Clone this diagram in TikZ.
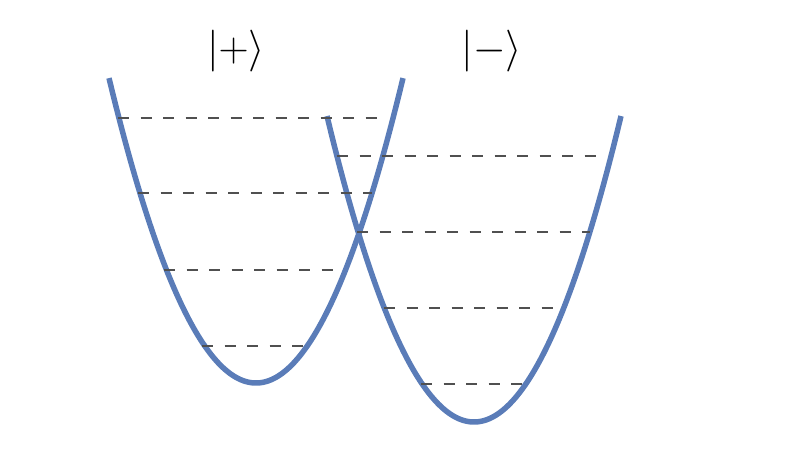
\documentclass[tikz,border=0pt]{standalone}
\definecolor{wellblue}{RGB}{90,124,184}
\definecolor{levelgray}{RGB}{80,80,80}
\tikzset{
  well/.style={wellblue, line width=5.5pt, line cap=butt},
  level/.style={levelgray, line width=1.1pt, dash pattern=on 11pt off 11.5pt},
  ketlabel/.style={font=\Huge, scale=1.68, inner sep=0pt}
}
\begin{document}
\begin{tikzpicture}[x=1pt,y=-1pt]
\useasboundingbox (0,0) rectangle (808,455);
% wells
\draw[well] plot[domain=109:403, samples=120, smooth] (\x, {383-1.411*((\x-256)/10)^2});
\draw[well] plot[domain=327:621, samples=120, smooth] (\x, {422-1.416*((\x-474)/10)^2});
% levels of left well
\draw[level] (118,118) -- (384,118);
\draw[level] (138,193) -- (372,193);
\draw[level] (164,270) -- (340,270);
\draw[level] (202,346) -- (308,346);
% levels of right well
\draw[level] (337,156) -- (607,156);
\draw[level] (357,232) -- (590,232);
\draw[level] (384,308) -- (558,308);
\draw[level] (421,384) -- (527,384);
% labels
\node[ketlabel] (plus) at (236,51) {$|{+}\rangle$};
\node[ketlabel] (minus) at (492,51) {$|{-}\rangle$};
\end{tikzpicture}
\end{document}
